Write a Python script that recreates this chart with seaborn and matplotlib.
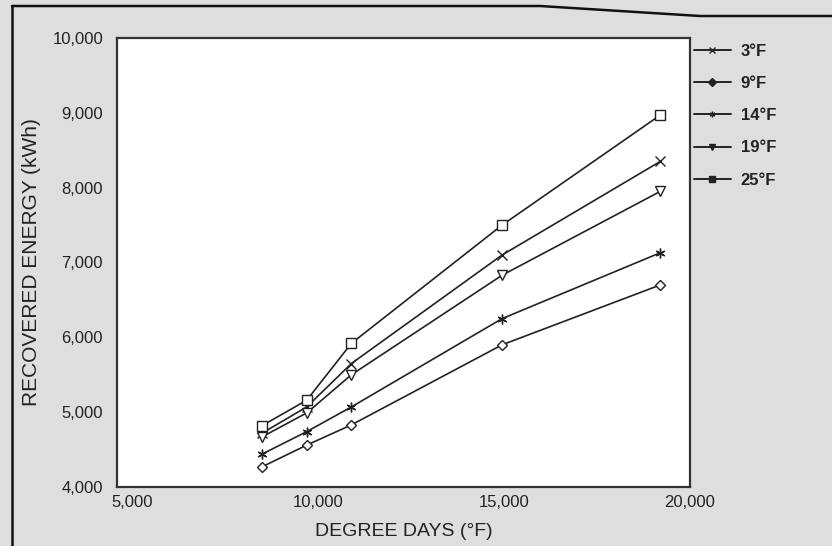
import matplotlib
matplotlib.use("Agg")
import matplotlib.pyplot as plt
import seaborn as sns
import pandas as pd
from matplotlib.lines import Line2D
from matplotlib.ticker import FuncFormatter

# ---- data ----
degree_days = [8500, 9700, 10900, 14950, 19200]
series_labels = ["3°F", "9°F", "14°F", "19°F", "25°F"]
energy_3 = [4720, 5070, 5650, 7100, 8350]
energy_9 = [4270, 4560, 4830, 5900, 6700]
energy_14 = [4440, 4740, 5070, 6250, 7130]
energy_19 = [4670, 4990, 5500, 6830, 7950]
energy_25 = [4820, 5160, 5920, 7500, 8970]
x_ticks = [5000, 10000, 15000, 20000]
y_ticks = [4000, 5000, 6000, 7000, 8000, 9000, 10000]

series_values = [energy_3, energy_9, energy_14, energy_19, energy_25]
rows = []
for lab, vals in zip(series_labels, series_values):
    for x, y in zip(degree_days, vals):
        rows.append({"series": lab, "degree_days": x, "energy": y})
df = pd.DataFrame(rows)

sns.set_style("white")
plt.rcParams["font.family"] = ["Liberation Sans", "DejaVu Sans"]

ink = "#222222"
paper = "#dedede"

fig = plt.figure(figsize=(8.32, 5.46), dpi=100, facecolor=paper)
ax = fig.add_axes([117 / 832, 1 - 487 / 546, (690 - 117) / 832, (487 - 38) / 546])
ax.set_facecolor("white")

markers = {"3°F": "x", "9°F": "D", "14°F": (6, 2, 0), "19°F": "v", "25°F": "s"}
msizes = {"3°F": 7, "9°F": 5.5, "14°F": 7, "19°F": 7, "25°F": 7.5}

for lab in series_labels:
    sub = df[df["series"] == lab]
    sns.lineplot(data=sub, x="degree_days", y="energy", ax=ax, color=ink,
                 marker=markers[lab], markersize=msizes[lab],
                 markerfacecolor="white", markeredgecolor=ink,
                 markeredgewidth=1.0, linewidth=1.2, legend=False)

ax.set_xlim(4600, 20000)
ax.set_ylim(4000, 10000)
ax.set_xticks(x_ticks)
ax.set_yticks(y_ticks)
fmt = FuncFormatter(lambda v, p: f"{int(v):,}")
ax.xaxis.set_major_formatter(fmt)
ax.yaxis.set_major_formatter(fmt)
ax.tick_params(axis="both", length=0, labelsize=12, colors=ink)
ax.tick_params(axis="x", pad=6)
ax.tick_params(axis="y", pad=10)

for s in ax.spines.values():
    s.set_visible(True)
    s.set_color("#333333")
    s.set_linewidth(1.6)

ax.set_xlabel("DEGREE DAYS (°F)", fontsize=14, color=ink, labelpad=9)
ax.set_ylabel("RECOVERED ENERGY (kWh)", fontsize=15, color=ink, labelpad=8)

handles = [Line2D([], [], color=ink, linewidth=1.4, marker=markers[l],
                  markersize=4, markerfacecolor=ink, markeredgecolor=ink)
           for l in series_labels]
leg = fig.legend(handles, series_labels, loc="upper left",
                 bbox_to_anchor=(694 / 832, 1 - 44 / 546), frameon=False,
                 prop={"size": 12, "weight": "bold"}, handlelength=2.2,
                 handletextpad=0.6, labelspacing=1.03, borderpad=0,
                 borderaxespad=0)
for t in leg.get_texts():
    t.set_color(ink)

# scanned page border lines (decoration)
fig.add_artist(Line2D([12 / 832, 12 / 832], [0, 1 - 6 / 546], transform=fig.transFigure,
                      color="#111111", linewidth=1.8))
fig.add_artist(Line2D([12 / 832, 540 / 832, 700 / 832, 832 / 832],
                      [1 - 6 / 546, 1 - 6 / 546, 1 - 16 / 546, 1 - 16 / 546],
                      transform=fig.transFigure, color="#111111", linewidth=1.8))

fig.savefig("out.png", dpi=100, facecolor=paper)
